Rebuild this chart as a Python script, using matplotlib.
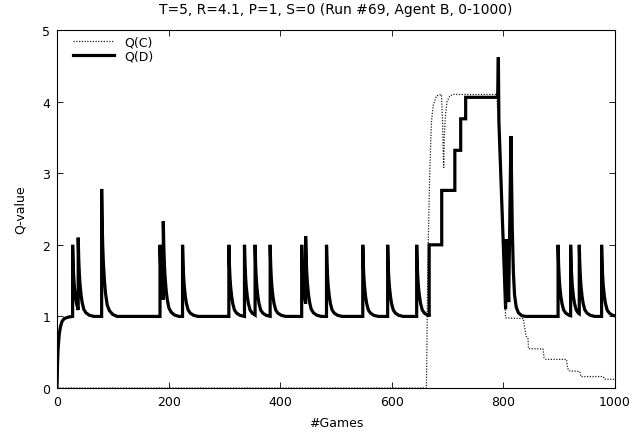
import numpy as np
import matplotlib
matplotlib.use("Agg")
import matplotlib.pyplot as plt

title = "T=5, R=4.1, P=1, S=0 (Run #69, Agent B, 0-1000)"

# Q(D): start-up rise
rise_x = [0, 1, 2, 4, 6, 9, 13, 20, 28]
rise_y = [0, 0.35, 0.55, 0.75, 0.85, 0.93, 0.97, 0.99, 1.0]

# Q(D): spikes before the cooperation phase (time, peak)
spike_t = [28, 38, 80, 184.6, 190.5, 225, 308, 336, 355, 382,
           438.5, 445.6, 483, 548, 592.6, 644.6]
spike_peak = [2.0, 2.1, 2.78, 2.0, 2.33, 2.0, 2.0, 2.0, 2.0, 2.0,
              2.0, 2.12, 2.0, 2.0, 2.0, 2.0]

# Q(D): staircase and crash in the middle
mid_x = [667, 667, 689.5, 689.5, 713, 713, 723.5, 723.5, 732.4, 732.4,
         789.7, 791, 792, 804, 805.5, 809.5, 813.5, 816, 818, 820, 823,
         827, 833, 840]
mid_y = [1.0, 2.0, 2.0, 2.76, 2.76, 3.32, 3.32, 3.76, 3.76, 4.06,
         4.06, 4.62, 3.71, 1.1, 2.08, 1.2, 3.52, 2.2, 1.6, 1.3, 1.13,
         1.05, 1.01, 1.0]

# Q(D): late spikes
late_t = [898, 920.5, 936, 976]
late_peak = [2.0, 2.0, 2.0, 2.0]

# shape of the fall back to 1 after a spike: games after spike -> share of excess left
decay_dt = [0, 1, 2, 3, 5, 7, 10, 14, 20, 28]
decay_frac = [1, 0.72, 0.55, 0.43, 0.28, 0.18, 0.09, 0.045, 0.015, 0]

# Q(C)
qc_x = [0, 662, 663, 664, 665.5, 668, 671, 674, 680, 689, 691, 693,
        694, 696, 699, 704, 710, 785, 788, 792, 804, 836, 837, 839,
        841, 844, 845, 871, 873, 876, 913, 915, 918, 937, 939, 979,
        981, 1000]
qc_y = [0, 0, 0.6, 1.4, 2.08, 3.0, 3.7, 3.94, 4.08, 4.1, 3.7, 3.08,
        3.5, 3.8, 4.0, 4.08, 4.1, 4.1, 4.1, 3.6, 0.98, 0.97, 0.9, 0.8,
        0.72, 0.7, 0.55, 0.545, 0.42, 0.40, 0.40, 0.28, 0.24, 0.23,
        0.16, 0.16, 0.125, 0.12]


def spike_run(times, peaks, t_end, xs, ys):
    for i, (t, p) in enumerate(zip(times, peaks)):
        nxt = times[i + 1] if i + 1 < len(times) else t_end
        xs += [t, t]
        ys += [ys[-1], p]
        for d, f in zip(decay_dt[1:], decay_frac[1:]):
            if t + d >= nxt:
                break
            xs.append(t + d)
            ys.append(1 + (p - 1) * f)
        xs.append(nxt)
        ys.append(1 + (p - 1) * np.interp(nxt - t, decay_dt, decay_frac))


qd_x = list(rise_x)
qd_y = list(rise_y)
spike_run(spike_t, spike_peak, mid_x[0], qd_x, qd_y)
qd_x += mid_x
qd_y += mid_y
spike_run(late_t, late_peak, 1000, qd_x, qd_y)

fig = plt.figure(figsize=(6.34, 4.35), dpi=100)
ax = fig.add_axes([0.0899, 0.1057, 0.8801, 0.823])

ax.plot(qc_x, qc_y, color="#222222", lw=0.9, ls=(0, (1, 1.2)), label="Q(C)")
ax.plot(qd_x, qd_y, color="black", lw=2.3, solid_joinstyle="miter", label="Q(D)")

ax.set_xlim(0, 1000)
ax.set_ylim(0, 5)
ax.set_xticks([0, 200, 400, 600, 800, 1000])
ax.set_yticks([0, 1, 2, 3, 4, 5])
ax.tick_params(direction="in", top=True, right=True, length=4, width=0.6,
               labelsize=9, pad=5)
for s in ax.spines.values():
    s.set_linewidth(0.8)

ax.set_title(title, fontsize=10, pad=12)
ax.set_xlabel("#Games", fontsize=9, labelpad=6)
ax.set_ylabel("Q-value", fontsize=9, labelpad=11)

ax.legend(loc="upper left", bbox_to_anchor=(0.0287, 0.985), frameon=False,
          fontsize=9, handlelength=3.3, handletextpad=0.8, labelspacing=0.1,
          borderpad=0, borderaxespad=0)

fig.savefig("out.png", dpi=100)
